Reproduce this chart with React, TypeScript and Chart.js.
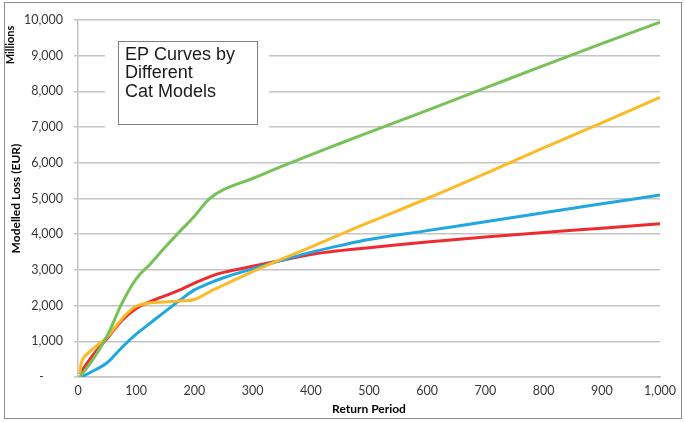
import React, { useEffect, useRef } from 'react';
import { Chart, registerables } from 'chart.js';

Chart.register(...registerables);

// Return periods (years) and modelled losses (EUR millions)
const returnPeriods = [3, 8, 25, 50, 75, 100, 125, 150, 175, 200, 225, 250, 300, 350, 400, 450, 500, 600, 700, 800, 900, 1000];
const modelGreen = [0, 100, 480, 1150, 2050, 2750, 3180, 3640, 4080, 4500, 4980, 5250, 5560, 5900, 6220, 6540, 6850, 7470, 8100, 8720, 9340, 9940];
const modelOrange = [100, 500, 780, 1120, 1620, 1980, 2080, 2100, 2130, 2170, 2380, 2570, 2950, 3300, 3640, 3990, 4330, 5000, 5700, 6420, 7120, 7830];
const modelRed = [80, 200, 600, 1080, 1580, 1920, 2120, 2280, 2440, 2630, 2800, 2930, 3100, 3270, 3430, 3540, 3620, 3780, 3920, 4050, 4170, 4290];
const modelBlue = [0, 20, 160, 400, 820, 1200, 1520, 1840, 2150, 2440, 2620, 2780, 3030, 3270, 3490, 3680, 3850, 4100, 4350, 4600, 4850, 5100];

const titleLines = ['EP Curves by', 'Different', 'Cat Models'];
const unitLabel = 'Millions';
const yTitle = 'Modelled Loss (EUR)';
const xTitle = 'Return Period';

const toPoints = (ys: number[]) => ys.map((y, i) => ({ x: returnPeriods[i], y }));

const decorPlugin = {
  id: 'decor',
  afterDraw(chart: any) {
    const ctx = chart.ctx;
    ctx.save();
    // outer border
    ctx.strokeStyle = '#8c8c8c';
    ctx.lineWidth = 1;
    ctx.strokeRect(4.5, 2.5, 677, 416);
    // text box white background hiding gridlines
    ctx.fillStyle = '#ffffff';
    ctx.fillRect(105, 30, 164, 100);
    ctx.strokeStyle = '#7f7f7f';
    ctx.lineWidth = 1;
    ctx.strokeRect(118.5, 41.5, 139, 83);
    ctx.fillStyle = '#1a1a1a';
    ctx.font = '18px "Liberation Sans", Arial, sans-serif';
    ctx.textBaseline = 'middle';
    ctx.textAlign = 'left';
    titleLines.forEach((t, i) => ctx.fillText(t, 125, 55 + i * 18.5));
    // Millions label
    ctx.translate(10, 45);
    ctx.rotate(-Math.PI / 2);
    ctx.font = 'bold 11px Lato, sans-serif';
    ctx.fillStyle = '#000000';
    ctx.textAlign = 'center';
    ctx.fillText(unitLabel, 0, 0);
    ctx.restore();
  },
};

export default function App() {
  const ref = useRef<HTMLCanvasElement>(null);
  useEffect(() => {
    if (!ref.current) return;
    const ds = (data: number[], color: string) => ({
      data: toPoints(data),
      borderColor: color,
      backgroundColor: color,
      borderWidth: 3,
      pointRadius: 0,
      tension: 0.4,
      fill: false,
    });
    const chart = new Chart(ref.current, {
      type: 'line',
      data: {
        datasets: [
          ds(modelGreen, '#77c158'),
          ds(modelOrange, '#fbbb26'),
          ds(modelBlue, '#1fa7e1'),
          ds(modelRed, '#ee2b2f'),
        ],
      },
      options: {
        responsive: false,
        animation: false,
        layout: { padding: { left: 9, right: 25, top: 20, bottom: 6 } },
        plugins: { legend: { display: false }, tooltip: { enabled: false } },
        scales: {
          x: {
            type: 'linear',
            min: 0,
            max: 1000,
            afterFit: (s: any) => { s.height = 39; },
            grid: { display: false, drawTicks: false },
            border: { display: true, color: '#c4c4c4', width: 1.5 },
            ticks: {
              stepSize: 100,
              padding: 6,
              color: '#383838',
              font: { family: 'Lato', size: 12.5 },
              maxRotation: 0,
              callback: (v: any) => Number(v).toLocaleString('en-US'),
            },
            title: {
              display: true,
              text: xTitle,
              color: '#000000',
              font: { family: 'Lato', size: 12, weight: 'bold' },
              padding: { top: 0, bottom: 0 },
            },
          },
          y: {
            min: 0,
            max: 10000,
            afterFit: (s: any) => { s.width = 69; },
            grid: { color: '#c4c4c4', lineWidth: 1.5, drawTicks: true, tickLength: 4 },
            border: { display: true, color: '#c4c4c4', width: 1.5 },
            ticks: {
              stepSize: 1000,
              padding: 11,
              color: '#383838',
              font: { family: 'Lato', size: 12.5 },
              callback: (v: any) => (Number(v) === 0 ? '-      ' : Number(v).toLocaleString('en-US')),
            },
            title: {
              display: true,
              text: yTitle,
              color: '#000000',
              font: { family: 'Lato', size: 12, weight: 'bold' },
              padding: { top: 0, bottom: 0 },
            },
          },
        },
      },
      plugins: [decorPlugin],
    });
    return () => chart.destroy();
  }, []);
  return (
    <div style={{ position: 'absolute', left: 0, top: 0, width: 685, height: 422, background: '#fff' }}>
      <canvas ref={ref} width={685} height={422} />
    </div>
  );
}
